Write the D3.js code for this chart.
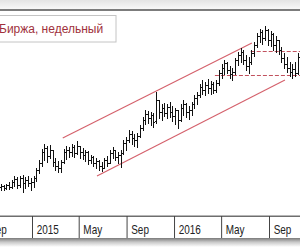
<!DOCTYPE html>
<html><head><meta charset="utf-8">
<script src="https://cdn.jsdelivr.net/npm/d3@7"></script>
<style>html,body{margin:0;padding:0;background:#fff;overflow:hidden}svg{display:block}</style>
</head><body><svg id="c" width="300" height="250"></svg>
<script>
const title = "Биржа, недельный";
const firstWeek = "2014-10-13";
const opens = [49.5,50,49,50.5,49.5,52,53.5,50.5,54,51.5,
53,51.5,52,54,58,61.5,67,69,65,68,
62,60,59,62,67,68,67,69.5,66.5,70,
67,65.5,67,63,64.5,61.5,62.5,60,59,63,
61.5,66.5,68,64.5,65.5,66.5,71.5,73,76,74,
73,75,79,83,86,84,85.5,82.5,93,87,
89,86.5,89.5,87,85,88,83,89,91,87,
88,91,94,95.5,99.5,98,100.5,99,101,98,
101.5,106.5,109,111.5,108,106,107,113,115.5,117,
113,110,112,116.5,120.5,125,127,124,128,123,
126,120.5,123,118,114,111,109,107,108.5,106.5];
const highs = [51,50.5,51,52,53,55,54.5,55,55.5,54.5,
55,54,55,59,63,68.5,71,70,70.5,68,
64,62.5,63,68.5,70,69.5,71,70.5,72.5,70,
69,68,67.5,65.5,65,64,63,62,64,65,
68,69.5,68,67,68,73,74.5,78,77.5,76,
76.5,80.5,84.5,88,87.5,87,86.5,97,93,91,
91.5,91,92,90,89,88,91,93,91.5,90,
92,95.5,97,101,103,102,103.5,102.5,102,103,
108,111,113,112,110,109,114,117,119,118,
115.5,114.5,118,122,126.5,128.5,128,130,128.5,127.5,
126.5,125,123,119.5,116.5,114.5,112,111,112,116.5];
const lows = [48,48,48.5,48.5,49,50,49,49.5,47,49,
50,48,49.5,52.5,56.5,60,63,62,64,60,
58,57,57,61.5,63.5,64.5,65,64.5,66,64,
63.5,62.5,61,61.5,60,59,58,57.5,59,60,
61.5,64,63,61.5,59.5,66,68,72,71,70,
69.5,74.5,78,81,81.5,80.5,79.5,81.5,84,83,
85,84,84.5,82.5,81,79,82.5,85.5,84.5,83.5,
85.5,89,91,94.5,96,95.5,96.5,96,96.5,97,
100.5,104,106,106.5,104,103,106,110.5,112,111,
108,106.5,111,115,119.5,122,121,123,120.5,120,
118,117,116,112,109,107,105,104,105,106];
const closes = [50,49,50.5,49.5,52,53.5,50.5,54,51.5,53,
51.5,52,54,58,61.5,67,69,65,68,62,
60,59,62,67,68,67,69.5,66.5,70,67,
65.5,67,63,64.5,61.5,62.5,60,59,63,61.5,
66.5,68,64.5,65.5,66.5,71.5,73,76,74,73,
75,79,83,86,84,85.5,82,93,87,89,
86.5,89.5,87,85,88,83,89,91,87,88,
91,94,95.5,99.5,98,100.5,99,101,98,101.5,
106.5,109,111.5,108,106,107,113,115.5,117,113,
110,112,116.5,120.5,125,127,124,128,123,126,
120.5,123,118,114,111,109,107,108.5,106.5,114.5];
const tickDates = ["2014-09-01","2015-01-01","2015-05-01","2015-09-01","2016-01-01","2016-05-01","2016-09-01"];
const tickLabels = ["Sep","2015","May","Sep","2016","May","Sep"];
const channelUpper = [["2015-03-21",74],["2016-07-19",121.5]];
const channelLower = [["2015-06-17",55],["2016-10-12",103]];
const levelHigh = [["2016-07-16",117.25],["2016-11-25",117.25]];
const levelLow = [["2016-04-15",105.25],["2016-11-25",105.25]];

const parse = d3.timeParse("%Y-%m-%d");
const start = parse(firstWeek);
const bars = opens.map((o,i)=>({date:d3.timeWeek.offset(start,i),o,h:highs[i],l:lows[i],c:closes[i]}));

const svg = d3.select("#c");
const x = d3.scaleTime().domain([parse("2015-01-01"),parse("2016-09-01")]).range([32,269]);
const y = d3.scaleLinear().domain([35,138]).range([216,10]);

const defs = svg.append("defs");
const g1 = defs.append("linearGradient").attr("id","topg").attr("x1",0).attr("y1",0).attr("x2",0).attr("y2",1);
g1.append("stop").attr("offset","0%").attr("stop-color","#e4e4e4");
g1.append("stop").attr("offset","100%").attr("stop-color","#f8f8f8");
const g2 = defs.append("linearGradient").attr("id","botg").attr("x1",0).attr("y1",0).attr("x2",0).attr("y2",1);
g2.append("stop").attr("offset","0%").attr("stop-color","#7a7a7a");
g2.append("stop").attr("offset","45%").attr("stop-color","#c8c8c8");
g2.append("stop").attr("offset","100%").attr("stop-color","#ffffff");
defs.append("clipPath").attr("id","clip").append("rect").attr("x",0).attr("y",11).attr("width",300).attr("height",204);

svg.append("rect").attr("x",0).attr("y",0).attr("width",300).attr("height",9).attr("fill","url(#topg)");
svg.append("rect").attr("x",0).attr("y",9).attr("width",300).attr("height",2).attr("fill","#7c7c7c");

const plot = svg.append("g").attr("clip-path","url(#clip)");

// legend
plot.append("rect").attr("x",-5.5).attr("y",15.5).attr("width",121.5).attr("height",26.5)
  .attr("fill","#fff").attr("stroke","#c4c4c4");
plot.append("text").attr("x",-1).attr("y",32.5).attr("fill","#a0313c")
  .attr("font-family","'Liberation Sans', Arial, sans-serif").attr("font-size",12).text(title);

// trend lines
const line = d3.line().x(d=>x(parse(d[0]))).y(d=>y(d[1]));
[channelUpper, channelLower].forEach(seg=>{
  plot.append("path").attr("d",line(seg)).attr("fill","none").attr("stroke","#d4606b").attr("stroke-width",1.1);
});
[levelHigh, levelLow].forEach(seg=>{
  plot.append("path").attr("d",line(seg)).attr("fill","none").attr("stroke","#c2525e")
    .attr("stroke-width",1.2).attr("stroke-dasharray","4,2");
});

// OHLC bars
const bg = plot.append("g").attr("stroke","#111").attr("stroke-width",1).attr("shape-rendering","crispEdges");
const px = d => Math.round(x(d.date)) + 0.5;
bg.selectAll("line.v").data(bars).join("line").attr("class","v")
  .attr("x1",px).attr("x2",px).attr("y1",d=>Math.round(y(d.h))).attr("y2",d=>Math.round(y(d.l))+1);
bg.selectAll("line.o").data(bars).join("line").attr("class","o")
  .attr("x1",d=>px(d)-1.5).attr("x2",d=>px(d)).attr("y1",d=>Math.round(y(d.o))+0.5).attr("y2",d=>Math.round(y(d.o))+0.5);
bg.selectAll("line.cl").data(bars).join("line").attr("class","cl")
  .attr("x1",d=>px(d)).attr("x2",d=>px(d)+1.5).attr("y1",d=>Math.round(y(d.c))+0.5).attr("y2",d=>Math.round(y(d.c))+0.5);

// axis strip
svg.append("rect").attr("x",0).attr("y",216).attr("width",300).attr("height",22).attr("fill","#fff");
svg.append("rect").attr("x",0).attr("y",238).attr("width",300).attr("height",9).attr("fill","url(#botg)");
svg.append("rect").attr("x",0).attr("y",215.5).attr("width",300).attr("height",1.5).attr("fill","#6e6e6e");

const axisG = svg.append("g").attr("transform","translate(0,238)");
axisG.call(d3.axisBottom(x).tickValues(tickDates.map(parse)).tickFormat((d,i)=>tickLabels[i])
  .tickSizeInner(-22).tickSizeOuter(0));
axisG.select(".domain").remove();
axisG.selectAll(".tick line").attr("stroke","#444");
axisG.selectAll(".tick text")
  .attr("text-anchor","start").attr("dy",null).attr("x",5).attr("y",-4)
  .attr("transform","scale(0.83,1)")
  .attr("fill","#222")
  .attr("font-family","'Liberation Sans', Arial, sans-serif").attr("font-size",12);
</script></body></html>
